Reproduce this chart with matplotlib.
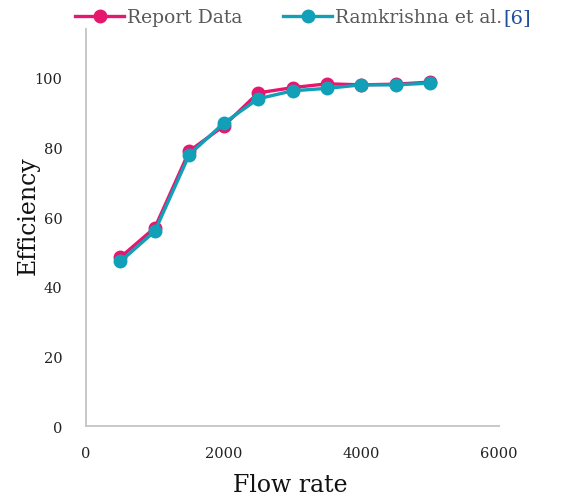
import matplotlib.pyplot as plt

# flow rate vs efficiency, report data against reference values
flow_rate = [500, 1000, 1500, 2000, 2500, 3000, 3500, 4000, 4500, 5000]
report_eff = [48.5, 57.0, 79.0, 86.2, 95.7, 97.2, 98.3, 98.0, 98.2, 98.8]
ramkrishna_eff = [47.3, 56.0, 78.0, 87.0, 94.0, 96.3, 97.0, 98.0, 98.0, 98.5]

x_ticks = [0, 2000, 4000, 6000]
y_ticks = [0, 20, 40, 60, 80, 100]

pink = '#E6176F'
teal = '#11A0B7'
grey = '#595959'

plt.rcParams['font.family'] = ['DejaVu Serif', 'Liberation Serif']

fig = plt.figure(figsize=(5.66, 5.02), dpi=100)
ax = fig.add_axes([0.152, 0.149, 0.730, 0.791])

ax.plot(flow_rate, report_eff, color=pink, lw=2.4, marker='o', ms=9,
        label='Report Data', zorder=3)
ax.plot(flow_rate, ramkrishna_eff, color=teal, lw=2.4, marker='o', ms=9,
        label='Ramkrishna et al.', zorder=4)

ax.set_xlim(0, 6000)
ax.set_ylim(0, 114)
ax.set_xticks(x_ticks)
ax.set_yticks(y_ticks)
ax.tick_params(length=0, labelsize=10.5, colors='#222222')
ax.tick_params(axis='y', pad=17)
ax.tick_params(axis='x', pad=14)

for side in ['top', 'right']:
    ax.spines[side].set_visible(False)
for side in ['left', 'bottom']:
    ax.spines[side].set_color('#C8C8C8')
    ax.spines[side].set_linewidth(1.4)

ax.set_xlabel('Flow rate', fontsize=17, color='#111111')
ax.set_ylabel('Efficiency', fontsize=17, color='#111111')
ax.xaxis.set_label_coords(0.494, -0.118)
ax.yaxis.set_label_coords(-0.112, 0.534)

leg = fig.legend(loc='center', bbox_to_anchor=(0.51, 0.964), ncol=2,
                 frameon=False, fontsize=13.5, handlelength=2.6,
                 handletextpad=0.15, columnspacing=2.2, labelcolor=grey)

# citation marker after the second legend entry
fig.canvas.draw()
ref_text = leg.get_texts()[1]
ax.annotate('[6]', xy=(1, 0), xycoords=ref_text, xytext=(1, 0),
            textcoords='offset points', fontsize=14, color='#1F4E9A',
            ha='left', va='bottom')

fig.savefig('out.png', dpi=100)
